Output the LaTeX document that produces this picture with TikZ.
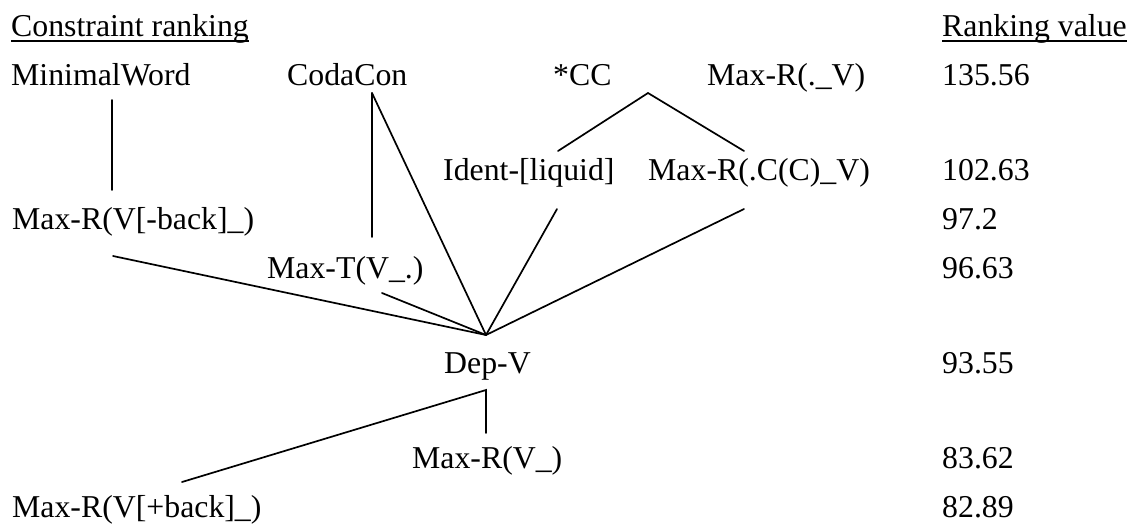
\documentclass[tikz,border=0pt]{standalone}
\usepackage{fontspec}
\setmainfont{Liberation Serif}
\begin{document}
\begin{tikzpicture}[x=1pt,y=-1pt,
  lbl/.style={anchor=base west,inner sep=0pt,font=\fontsize{31.8}{38}\selectfont},
  link/.style={line width=1.7pt,line cap=round},
  uline/.style={line width=1.8pt}]
\useasboundingbox (0,0) rectangle (1134,523);

% column headings
\node[lbl] (hdrL) at (11,36) {Constraint ranking};
\node[lbl] (hdrR) at (942,36) {Ranking value};
\draw[uline] ([yshift=-5pt]hdrL.base west) -- ([yshift=-5pt]hdrL.base east);
\draw[uline] ([yshift=-5pt]hdrR.base west) -- ([yshift=-5pt]hdrR.base east);

% constraints
\node[lbl] (minw)  at (11,85)   {MinimalWord};
\node[lbl] (coda)  at (287,85)  {CodaCon};
\node[lbl] (cc)    at (553,85)  {*CC};
\node[lbl] (maxv)  at (707,85)  {Max-R(.\_V)};
\node[lbl] (ident) at (443,180) {Ident-[liquid]};
\node[lbl] (maxcc) at (648,180) {Max-R(.C(C)\_V)};
\node[lbl] (maxbk) at (12,229)  {Max-R(V[-back]\_)};
\node[lbl] (maxt)  at (267,278) {Max-T(V\_.)};
\node[lbl] (depv)  at (444,373) {Dep-V};
\node[lbl] (maxr)  at (412,468) {Max-R(V\_)};
\node[lbl] (maxpb) at (12,517)  {Max-R(V[+back]\_)};

% ranking values
\node[lbl] (v1) at (942,85)  {135.56};
\node[lbl] (v2) at (942,180) {102.63};
\node[lbl] (v3) at (942,229) {97.2};
\node[lbl] (v4) at (942,278) {96.63};
\node[lbl] (v5) at (942,373) {93.55};
\node[lbl] (v6) at (942,468) {83.62};
\node[lbl] (v7) at (942,517) {82.89};

% end points of the ranking lines
\coordinate (minwB)  at (112,100);
\coordinate (maxbkT) at (112,190);
\coordinate (codaB)  at (372,93);
\coordinate (maxtT)  at (372,237);
\coordinate (ccB)    at (648,93);
\coordinate (identT) at (558,151);
\coordinate (maxccT) at (744,151);
\coordinate (identB) at (557,209);
\coordinate (maxccB) at (744,209);
\coordinate (maxbkB) at (113,256);
\coordinate (maxtB)  at (382,293);
\coordinate (depvT)  at (486,335);
\coordinate (depvB)  at (486,390);
\coordinate (maxrT)  at (486,433);
\coordinate (maxpbT) at (182,482);

% ranking lines
\draw[link] (minwB) -- (maxbkT);
\draw[link] (codaB) -- (maxtT);
\draw[link] (codaB) -- (depvT);
\draw[link] (identT) -- (ccB) -- (maxccT);
\draw[link] (identB) -- (depvT);
\draw[link] (maxccB) -- (depvT);
\draw[link] (maxbkB) -- (depvT);
\draw[link] (maxtB) -- (depvT);
\draw[link] (maxpbT) -- (depvB) -- (maxrT);
\end{tikzpicture}
\end{document}
